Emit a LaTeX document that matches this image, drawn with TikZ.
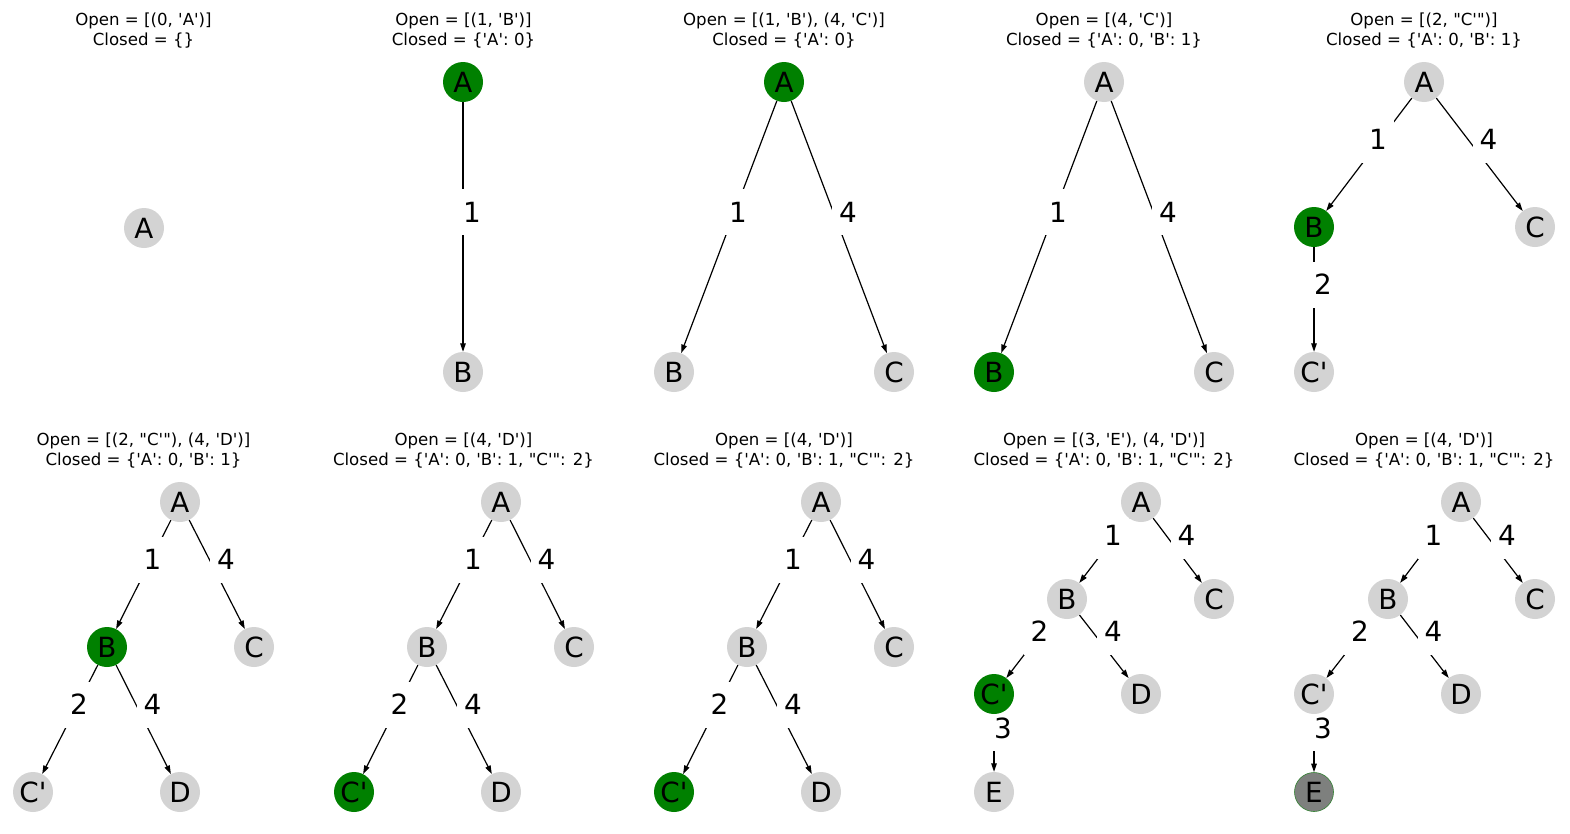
\documentclass[tikz,border=0pt]{standalone}
\usepackage{fontspec}
\newfontfamily\dv{DejaVu Sans}
\usetikzlibrary{arrows.meta}
\pgfdeclarelayer{bg}
\pgfsetlayers{bg,main}
\definecolor{ndgray}{RGB}{211,211,211}
\definecolor{ndgreen}{RGB}{0,128,0}
\definecolor{egray}{RGB}{126,128,126}
\tikzset{
  nd/.style={circle,fill=ndgray,minimum size=40pt,inner sep=0pt,font=\dv\fontsize{27.8}{30}\selectfont},
  gn/.style={nd,fill=ndgreen},
  gy/.style={nd,fill=egray,draw=ndgreen!60!egray,line width=0.6pt,minimum size=39pt},
  el/.style={fill=white,inner sep=0pt,minimum width=32pt,minimum height=46pt,xshift=9pt,yshift=15pt,font=\dv\fontsize{27.8}{30}\selectfont},
  ar/.style={line width=1.2pt,-{Triangle[length=8.5pt,width=5.5pt]}},
  tl/.style={anchor=base,inner sep=0pt,font=\dv\fontsize{16.6}{20}\selectfont}
}
\newcommand{\ed}[3]{\begin{pgfonlayer}{bg}\draw[ar] (#1) -- node[el]{#3} (#2);\end{pgfonlayer}}
\newcommand{\ttl}[5]{\node[tl] (#1o) at (#2,#3) {#4}; \node[tl] (#1c) at (#2,#3+20) {#5};}
\begin{document}
\begin{tikzpicture}[x=1pt,y=-1pt]
\useasboundingbox (0,0) rectangle (1570,833);
% ---------- row 1 ----------
\ttl{t1}{143.5}{25}{Open = [(0, 'A')]}{Closed = \{\}}
\node[nd] (p1a) at (144,228) {A};

\ttl{t2}{463.5}{25}{Open = [(1, 'B')]}{Closed = \{'A': 0\}}
\node[gn] (p2a) at (463,82) {A};
\node[nd] (p2b) at (463,372) {B};
\ed{p2a}{p2b}{1}

\ttl{t3}{784}{25}{Open = [(1, 'B'), (4, 'C')]}{Closed = \{'A': 0\}}
\node[gn] (p3a) at (784,82) {A};
\node[nd] (p3b) at (674,372) {B};
\node[nd] (p3c) at (894,372) {C};
\ed{p3a}{p3b}{1}
\ed{p3a}{p3c}{4}

\ttl{t4}{1104}{25}{Open = [(4, 'C')]}{Closed = \{'A': 0, 'B': 1\}}
\node[nd] (p4a) at (1104,82) {A};
\node[gn] (p4b) at (994,372) {B};
\node[nd] (p4c) at (1214,372) {C};
\ed{p4a}{p4b}{1}
\ed{p4a}{p4c}{4}

\ttl{t5}{1424}{25}{Open = [(2, "C'")]}{Closed = \{'A': 0, 'B': 1\}}
\node[nd] (p5a) at (1424,82) {A};
\node[gn] (p5b) at (1314,227) {B};
\node[nd] (p5c) at (1535,227) {C};
\node[nd] (p5d) at (1314,372) {C'};
\ed{p5a}{p5b}{1}
\ed{p5a}{p5c}{4}
\ed{p5b}{p5d}{2}

% ---------- row 2 ----------
\ttl{t6}{143.5}{445}{Open = [(2, "C'"), (4, 'D')]}{Closed = \{'A': 0, 'B': 1\}}
\node[nd] (p6a) at (180,502) {A};
\node[gn] (p6b) at (107,647) {B};
\node[nd] (p6c) at (254,647) {C};
\node[nd] (p6d) at (33,792) {C'};
\node[nd] (p6e) at (180,792) {D};
\ed{p6a}{p6b}{1}
\ed{p6a}{p6c}{4}
\ed{p6b}{p6d}{2}
\ed{p6b}{p6e}{4}

\ttl{t7}{463.5}{445}{Open = [(4, 'D')]}{Closed = \{'A': 0, 'B': 1, "C'": 2\}}
\node[nd] (p7a) at (501,502) {A};
\node[nd] (p7b) at (427,647) {B};
\node[nd] (p7c) at (574,647) {C};
\node[gn] (p7d) at (354,792) {C'};
\node[nd] (p7e) at (501,792) {D};
\ed{p7a}{p7b}{1}
\ed{p7a}{p7c}{4}
\ed{p7b}{p7d}{2}
\ed{p7b}{p7e}{4}

\ttl{t8}{784}{445}{Open = [(4, 'D')]}{Closed = \{'A': 0, 'B': 1, "C'": 2\}}
\node[nd] (p8a) at (821,502) {A};
\node[nd] (p8b) at (747,647) {B};
\node[nd] (p8c) at (894,647) {C};
\node[gn] (p8d) at (674,792) {C'};
\node[nd] (p8e) at (821,792) {D};
\ed{p8a}{p8b}{1}
\ed{p8a}{p8c}{4}
\ed{p8b}{p8d}{2}
\ed{p8b}{p8e}{4}

\ttl{t9}{1104}{445}{Open = [(3, 'E'), (4, 'D')]}{Closed = \{'A': 0, 'B': 1, "C'": 2\}}
\node[nd] (p9a) at (1141,502) {A};
\node[nd] (p9b) at (1067,599) {B};
\node[nd] (p9c) at (1214,599) {C};
\node[gn] (p9d) at (994,694) {C'};
\node[nd] (p9e) at (1141,694) {D};
\node[nd] (p9f) at (994,792) {E};
\ed{p9a}{p9b}{1}
\ed{p9a}{p9c}{4}
\ed{p9b}{p9d}{2}
\ed{p9b}{p9e}{4}
\ed{p9d}{p9f}{3}

\ttl{t10}{1424}{445}{Open = [(4, 'D')]}{Closed = \{'A': 0, 'B': 1, "C'": 2\}}
\node[nd] (q0a) at (1461,502) {A};
\node[nd] (q0b) at (1388,599) {B};
\node[nd] (q0c) at (1535,599) {C};
\node[nd] (q0d) at (1314,694) {C'};
\node[nd] (q0e) at (1461,694) {D};
\node[gy] (q0f) at (1314,792) {E};
\ed{q0a}{q0b}{1}
\ed{q0a}{q0c}{4}
\ed{q0b}{q0d}{2}
\ed{q0b}{q0e}{4}
\ed{q0d}{q0f}{3}
\end{tikzpicture}
\end{document}
